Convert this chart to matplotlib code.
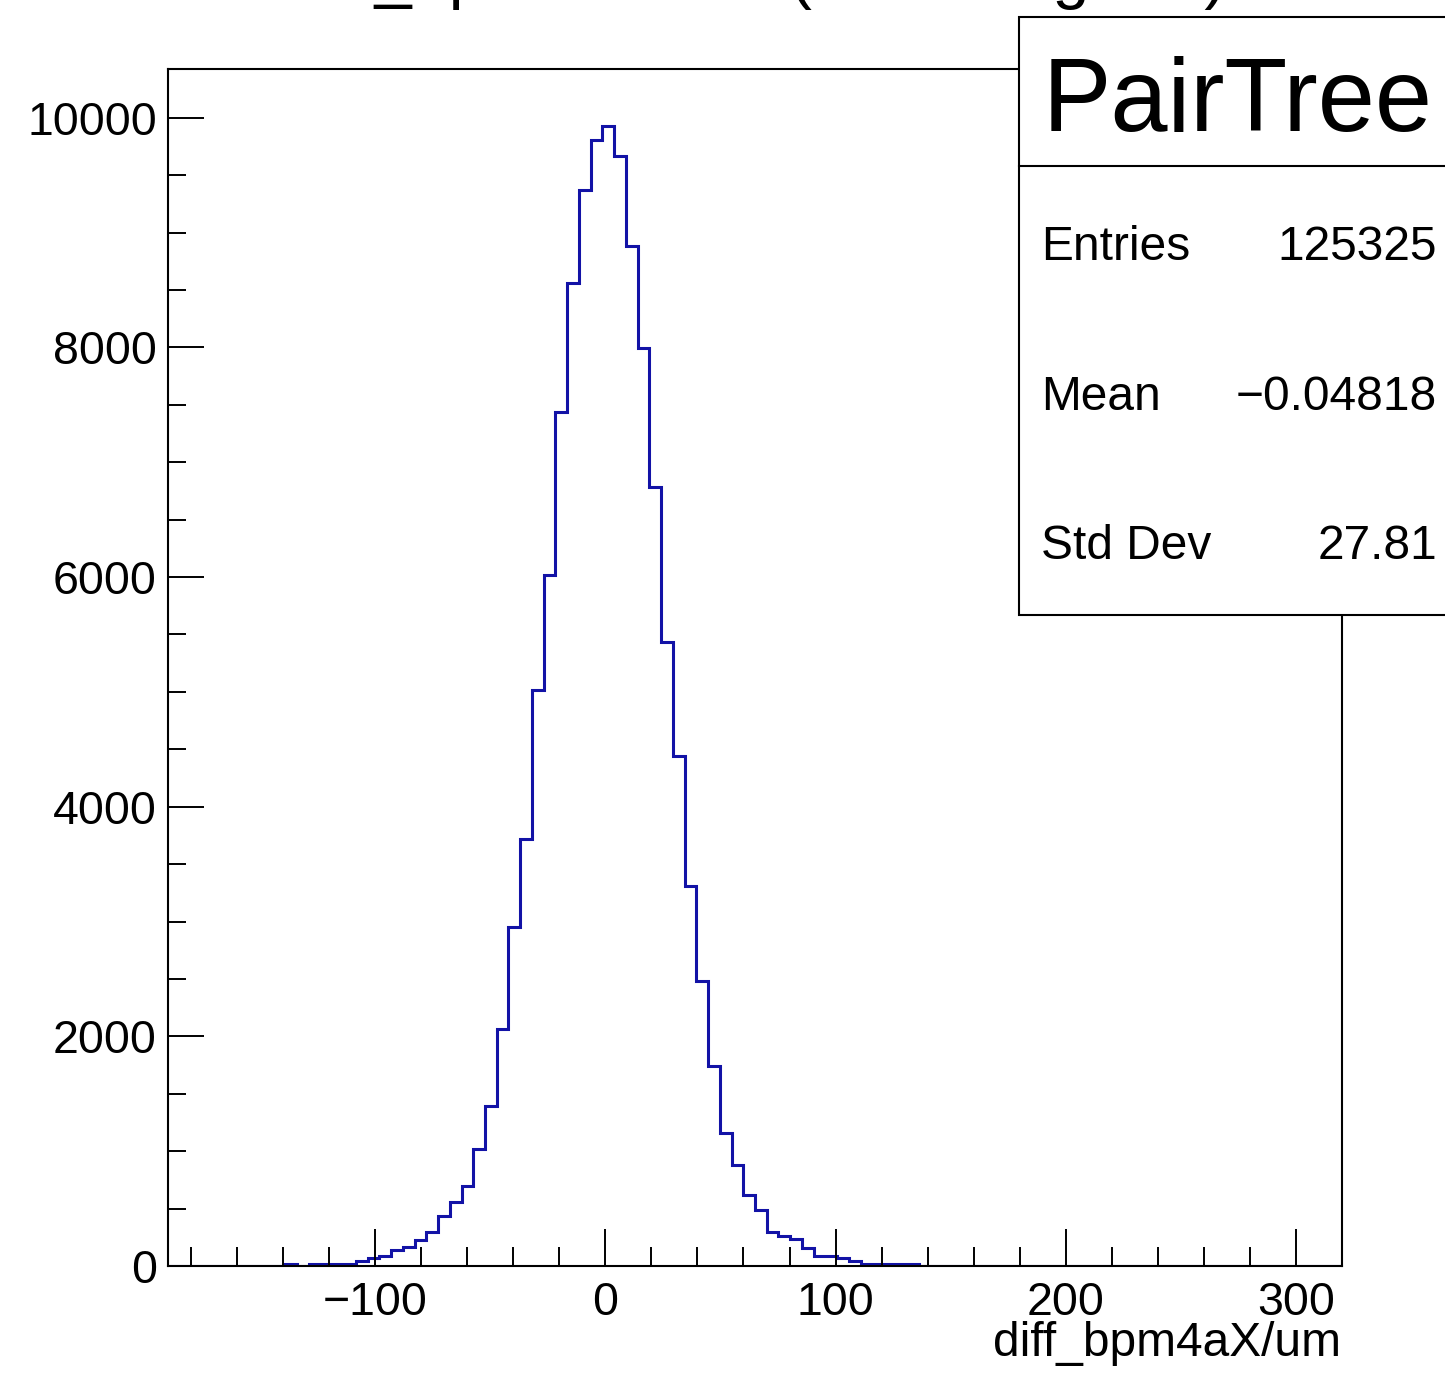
import numpy as np
import matplotlib
matplotlib.use('Agg')
import matplotlib.pyplot as plt
from matplotlib.patches import Rectangle
from matplotlib.lines import Line2D
from matplotlib.ticker import MultipleLocator

plt.rcParams['font.family'] = ['Liberation Sans', 'DejaVu Sans']

# histogram: 100 bins between -190 and 320
x_min, x_max, n_bins = -190.0, 320.0, 100
counts = [0] * 10 + [
    17, 0, 15, 17, 17, 18, 46, 67, 90, 140,
    163, 228, 300, 438, 554, 696, 1017, 1390, 2064, 2950,
    3717, 5013, 6017, 7440, 8559, 9372, 9808, 9928, 9669, 8882,
    7997, 6788, 5435, 4438, 3305, 2486, 1743, 1156, 879, 622,
    492, 298, 258, 231, 160, 88, 85, 67, 42, 15,
    15, 15, 15, 15,
] + [0] * 36

title = 'diff_bpm4aX/um (ErrorFlag==0)'
x_title = 'diff_bpm4aX/um'
stats_name = 'PairTree'
stats_labels = ['Entries', 'Mean', 'Std Dev']
stats_values = ['125325', '\u22120.04818', '27.81']

W, H = 1445, 1375
fig = plt.figure(figsize=(W / 100, H / 100), dpi=100)

# frame in pixels: left 168, right 1342, top 69, bottom 1266
ax = fig.add_axes([168 / W, 1 - 1266 / H, (1342 - 168) / W, (1266 - 69) / H])

edges = np.linspace(x_min, x_max, n_bins + 1)
ax.stairs(counts, edges, color='#1212a6', linewidth=2.2)

ax.set_xlim(x_min, x_max)
ax.set_ylim(0, 1.05 * max(counts))

ax.xaxis.set_major_locator(MultipleLocator(100))
ax.xaxis.set_minor_locator(MultipleLocator(20))
ax.yaxis.set_major_locator(MultipleLocator(2000))
ax.yaxis.set_minor_locator(MultipleLocator(500))

ax.tick_params(axis='x', which='major', direction='in', length=27, width=1.4,
               labelsize=33.5, pad=11, top=False)
ax.tick_params(axis='x', which='minor', direction='in', length=13.5, width=1.4, top=False)
ax.tick_params(axis='y', which='major', direction='in', length=26, width=1.4,
               labelsize=33.5, pad=8, right=False)
ax.tick_params(axis='y', which='minor', direction='in', length=13, width=1.4, right=False)
for sp in ax.spines.values():
    sp.set_linewidth(1.5)

# axis title, right aligned
fig.text(1341 / W, 1 - 1356 / H, x_title, ha='right', va='baseline', fontsize=34.5)

# title, mostly cut off at the top (as in the original)
fig.text(757 / W, 1 + 4 / H, title, ha='center', va='baseline', fontsize=48)

# stats box
def fx(px):
    return px / W

def fy(py):
    return 1 - py / H

box = Rectangle((fx(1019), fy(615)), fx(1600) - fx(1019), fy(17) - fy(615),
                transform=fig.transFigure, facecolor='white', edgecolor='black',
                linewidth=1.5, zorder=10)
fig.add_artist(box)
fig.add_artist(Line2D([fx(1019), fx(1600)], [fy(166), fy(166)],
                      transform=fig.transFigure, color='black', linewidth=1.5, zorder=11))
fig.text(fx(1043), fy(131), stats_name, ha='left', va='baseline', fontsize=74, zorder=12)

row_y = [260, 410, 559]
for lab, val, yy in zip(stats_labels, stats_values, row_y):
    fig.text(fx(1041), fy(yy), lab, ha='left', va='baseline', fontsize=34.5, zorder=12)
    fig.text(fx(1437), fy(yy), val, ha='right', va='baseline', fontsize=34.5, zorder=12)

fig.savefig('out.png', dpi=100)
